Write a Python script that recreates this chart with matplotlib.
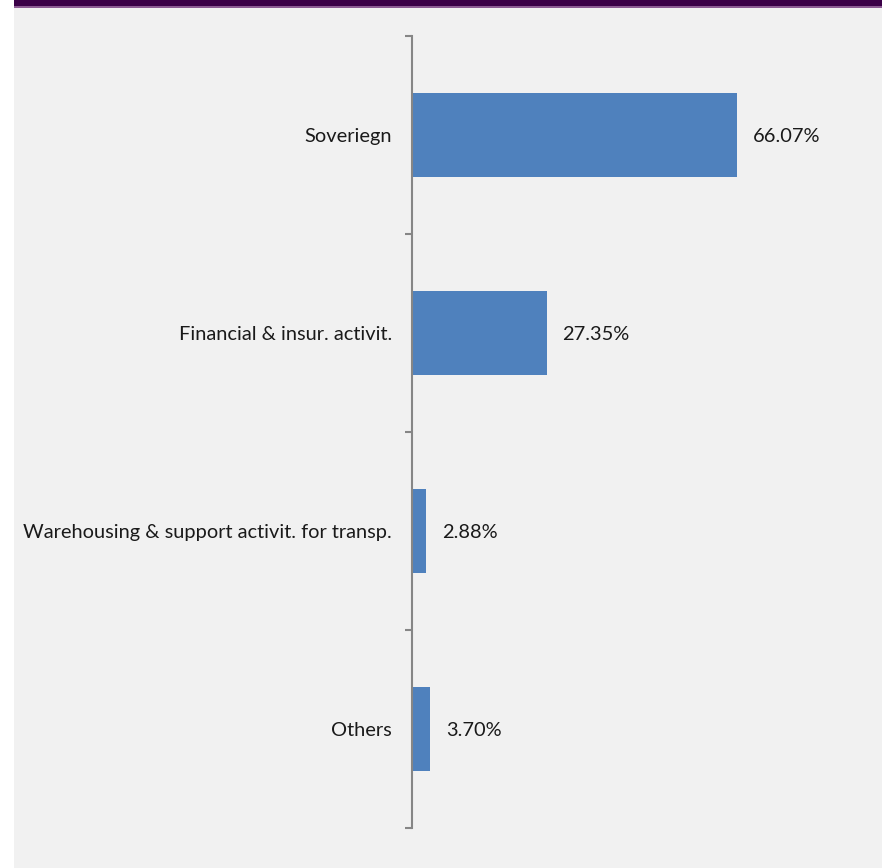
import matplotlib
matplotlib.use("Agg")
import matplotlib.pyplot as plt
from matplotlib.patches import Rectangle

categories = ["Soveriegn", "Financial & insur. activit.",
              "Warehousing & support activit. for transp.", "Others"]
values = [66.07, 27.35, 2.88, 3.70]
value_labels = ["66.07%", "27.35%", "2.88%", "3.70%"]

W, H = 882, 868
fig = plt.figure(figsize=(W / 100, H / 100), dpi=100)
fig.patch.set_facecolor("white")

# grey panel
fig.patches.append(Rectangle((14 / W, 0), 1 - 14 / W, 1, transform=fig.transFigure,
                             facecolor="#f1f1f1", edgecolor="none", zorder=-2))
# purple header strip
fig.patches.append(Rectangle((14 / W, 1 - 6 / H), 1 - 14 / W, 6 / H, transform=fig.transFigure,
                             facecolor="#3b0047", edgecolor="none", zorder=-1))
fig.patches.append(Rectangle((14 / W, 1 - 7.5 / H), 1 - 14 / W, 1.5 / H, transform=fig.transFigure,
                             facecolor="#8c5b93", edgecolor="none", zorder=-1))

x0, x1 = 412, 882
y_top, y_bot = 36, 828
ax = fig.add_axes([x0 / W, 1 - y_bot / H, (x1 - x0) / W, (y_bot - y_top) / H])
ax.set_facecolor("none")
ax.set_zorder(5)

n = len(categories)
ypos = list(range(n))
ax.barh(ypos, values, height=0.425, color="#4f81bd", edgecolor="none", zorder=2)
ax.set_ylim(n - 0.5, -0.5)
ax.set_xlim(0, (x1 - x0) / (325 / 66.07))

font = ["Lato", "DejaVu Sans"]
for y, v, lab in zip(ypos, values, value_labels):
    ax.annotate(lab, (v, y), xytext=(16 * 0.72, -2 * 0.72), textcoords="offset points",
                va="center", ha="left", fontsize=14.4, color="#1a1a1a", family=font,
                annotation_clip=False)
    ax.annotate(categories[y], (0, y), xytext=(-20 * 0.72, -1.5 * 0.72), textcoords="offset points",
                va="center", ha="right", fontsize=14.4, color="#1a1a1a", family=font,
                annotation_clip=False)

for s in ["top", "right", "bottom"]:
    ax.spines[s].set_visible(False)
ax.spines["left"].set_color("#868686")
ax.spines["left"].set_linewidth(1.5)
ax.set_xticks([])
ax.set_yticks([i - 0.5 for i in range(n + 1)])
ax.set_yticklabels([])
ax.tick_params(axis="y", length=5, width=1.5, color="#868686", direction="out")

fig.savefig("out.png", dpi=100, facecolor=fig.get_facecolor())
